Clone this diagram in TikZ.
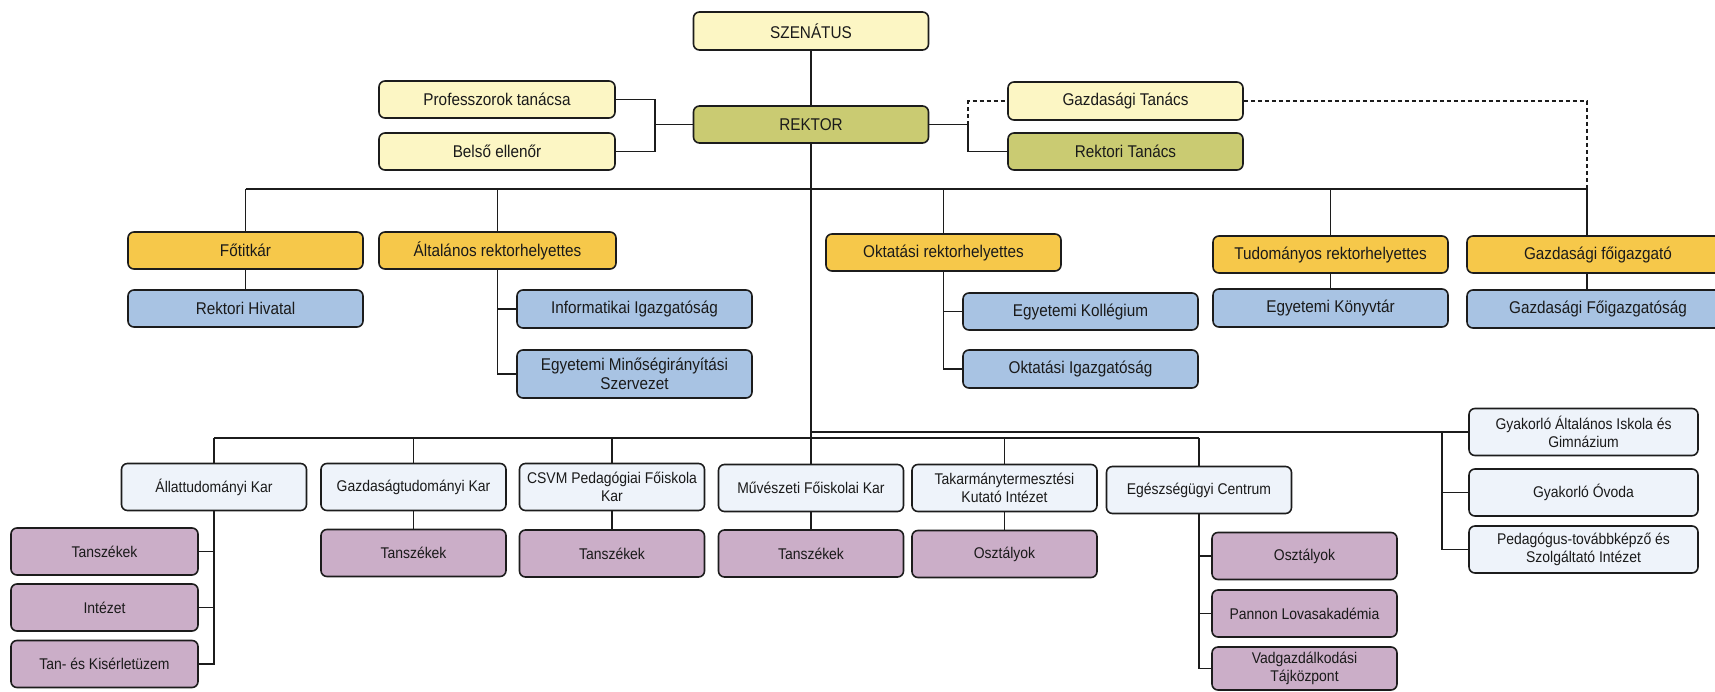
\documentclass[tikz,border=0pt]{standalone}
\usepackage{fontspec}
\newfontfamily\boxfont{Liberation Sans}[FakeStretch=0.9]
\definecolor{lyel}{HTML}{FCF6C4}
\definecolor{olive}{HTML}{CACB72}
\definecolor{gold}{HTML}{F6C84A}
\definecolor{lblue}{HTML}{A8C3E3}
\definecolor{facc}{HTML}{EEF3FA}
\definecolor{purp}{HTML}{CBAEC8}
\definecolor{linec}{HTML}{1C1C1C}
\definecolor{txt}{HTML}{1A1A1A}
\begin{document}
\begin{tikzpicture}[x=1pt,y=-1pt,
  box/.style={draw=linec,line width=1.6pt,rounded corners=6pt,align=center,inner sep=0pt,text=txt},
  upf/.style={font=\boxfont\fontsize{17}{19}\selectfont},
  lof/.style={font=\boxfont\fontsize{15.5}{17.5}\selectfont},
  topbox/.style={box,upf,minimum width=235pt,minimum height=37pt},
  facbox/.style={box,lof,minimum width=185pt,minimum height=47pt},
  yb/.style={topbox,fill=lyel},
  ob/.style={topbox,fill=olive},
  gb/.style={topbox,fill=gold},
  bb/.style={topbox,fill=lblue},
  fb/.style={facbox,fill=facc},
  pb/.style={facbox,fill=purp},
  conn/.style={draw=linec,line width=1.8pt},
  dconn/.style={conn,line width=1.5pt,dash pattern=on 4pt off 3pt}
]
\useasboundingbox (0,0) rectangle (1715,691);
\begin{scope}
\clip (0,0) rectangle (1715,691);
% top
\node[yb,minimum height=38pt] (sen) at (811,31) {SZENÁTUS};
\node[ob] (rek) at (811,124.5) {REKTOR};
\node[yb,minimum width=236pt] (prof) at (497,99.5) {Professzorok tanácsa};
\node[yb,minimum width=236pt] (bels) at (497,151.5) {Belső ellenőr};
\node[yb,minimum height=38pt] (gtan) at (1125.5,101) {Gazdasági Tanács};
\node[ob] (rtan) at (1125.5,151.5) {Rektori Tanács};
% vice rectors
\node[gb] (fot) at (245.5,250.5) {Főtitkár};
\node[gb,minimum width=237pt] (alt) at (497.5,250.5) {Általános rektorhelyettes};
\node[gb] (okt) at (943.5,252.5) {Oktatási rektorhelyettes};
\node[gb] (tud) at (1330.5,254.5) {Tudományos rektorhelyettes};
\node[gb,minimum width=262pt] (gfo) at (1598,254.5) {Gazdasági főigazgató};
% blue
\node[bb] (rhiv) at (245.5,308.5) {Rektori Hivatal};
\node[bb,minimum height=38pt] (inf) at (634.5,309) {Informatikai Igazgatóság};
\node[bb,minimum height=48pt] (emsz) at (634.5,374) {Egyetemi Minőségirányítási\\Szervezet};
\node[bb] (ekol) at (1080.5,311.5) {Egyetemi Kollégium};
\node[bb,minimum height=38pt] (oig) at (1080.5,369) {Oktatási Igazgatóság};
\node[bb,minimum height=38pt] (ekon) at (1330.5,308) {Egyetemi Könyvtár};
\node[bb,minimum width=262pt,minimum height=38pt] (gfig) at (1598,309) {Gazdasági Főigazgatóság};
% faculties
\node[fb] (allat) at (214,487) {Állattudományi Kar};
\node[fb] (gazd) at (413.5,487) {Gazdaságtudományi Kar};
\node[fb] (csvm) at (612,487) {CSVM Pedagógiai Főiskola\\Kar};
\node[fb] (muv) at (811,488) {Művészeti Főiskolai Kar};
\node[fb] (tak) at (1004.5,488) {Takarmánytermesztési\\Kutató Intézet};
\node[fb] (egcs) at (1199,490) {Egészségügyi Centrum};
% purple
\node[pb,minimum width=187pt] (a1) at (104.5,551.5) {Tanszékek};
\node[pb,minimum width=187pt] (a2) at (104.5,607.5) {Intézet};
\node[pb,minimum width=187pt] (a3) at (104.5,664) {Tan- és Kisérletüzem};
\node[pb] (g1) at (413.5,553) {Tanszékek};
\node[pb] (c1) at (612,553.5) {Tanszékek};
\node[pb] (m1) at (811,553.5) {Tanszékek};
\node[pb] (t1) at (1004.5,554) {Osztályok};
\node[pb] (e1) at (1304.5,556) {Osztályok};
\node[pb] (e2) at (1304.5,613.5) {Pannon Lovasakadémia};
\node[pb,minimum height=43pt] (e3) at (1304.5,668.5) {Vadgazdálkodási\\Tájközpont};
% gyakorlo
\node[fb,minimum width=229pt] (gyai) at (1583.5,432) {Gyakorló Általános Iskola és\\Gimnázium};
\node[fb,minimum width=229pt] (gyov) at (1583.5,492.5) {Gyakorló Óvoda};
\node[fb,minimum width=229pt] (ped) at (1583.5,549.5) {Pedagógus-továbbképző és\\Szolgáltató Intézet};

% coordinates
\coordinate (jl) at (655,124.5);
\coordinate (jr) at (968,124.5);
\coordinate (gx) at (1587,189);
\coordinate (t2) at (0,438);
\coordinate (t3) at (811,432);
\coordinate (gv) at (1442,432);

% connectors top
\draw[conn] (sen.south) -- (rek.north);
\draw[conn] (rek.south) -- (muv.north);
\draw[conn] (prof.east) -- (prof.east -| jl) -- (bels.east -| jl) -- (bels.east);
\draw[conn] (jl) -- (rek.west);
\draw[conn] (rek.east) -- (jr) -- (jr |- rtan.west) -- (rtan.west);
\draw[dconn] (jr) -- (jr |- gtan.west) -- (gtan.west);
\draw[dconn] (gtan.east) -- (gx |- gtan.east) -- (gx);
% tier 1
\draw[conn] (fot.north |- gx) -- (gx);
\foreach \n in {fot,alt,okt,tud} \draw[conn] (\n.north |- gx) -- (\n.north);
\draw[conn] (gx) -- (gx |- gfo.north);
\draw[conn] (fot.south) -- (rhiv.north);
\draw[conn] (alt.south) -- (alt.south |- emsz.west) -- (emsz.west);
\draw[conn] (alt.south |- inf.west) -- (inf.west);
\draw[conn] (okt.south) -- (okt.south |- oig.west) -- (oig.west);
\draw[conn] (okt.south |- ekol.west) -- (ekol.west);
\draw[conn] (tud.south) -- (ekon.north);
\draw[conn] (gx |- gfo.south) -- (gx |- gfig.north);
% tier 2
\draw[conn] (allat.north |- t2) -- (egcs.north |- t2);
\foreach \n in {allat,gazd,csvm,tak,egcs} \draw[conn] (\n.north |- t2) -- (\n.north);
\draw[conn] (t3) -- (gyai.west);
\draw[conn] (gv) -- (gv |- ped.west) -- (ped.west);
\draw[conn] (gv |- gyov.west) -- (gyov.west);
% faculty children
\draw[conn] (allat.south) -- (allat.south |- a3.east) -- (a3.east);
\draw[conn] (allat.south |- a1.east) -- (a1.east);
\draw[conn] (allat.south |- a2.east) -- (a2.east);
\draw[conn] (gazd.south) -- (g1.north);
\draw[conn] (csvm.south) -- (c1.north);
\draw[conn] (muv.south) -- (m1.north);
\draw[conn] (tak.south) -- (t1.north);
\draw[conn] (egcs.south) -- (egcs.south |- e3.west) -- (e3.west);
\draw[conn] (egcs.south |- e1.west) -- (e1.west);
\draw[conn] (egcs.south |- e2.west) -- (e2.west);
\end{scope}
\end{tikzpicture}
\end{document}
